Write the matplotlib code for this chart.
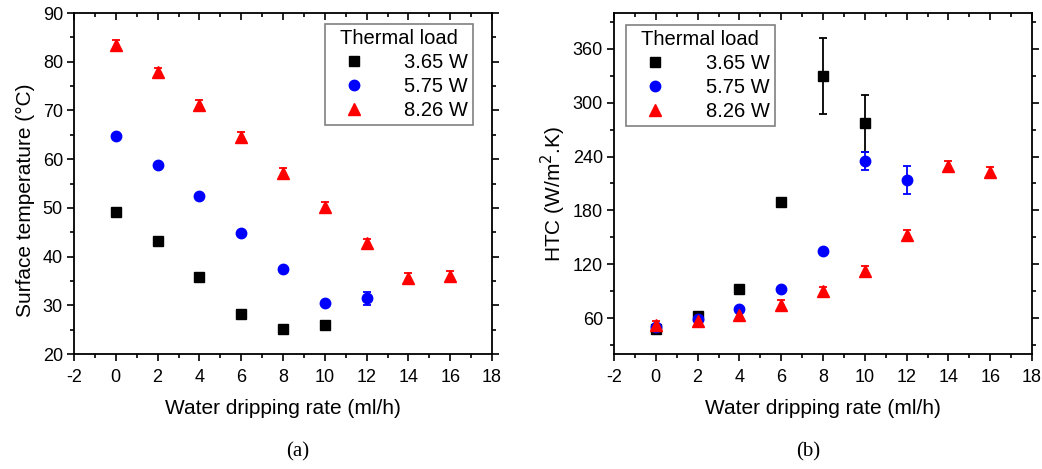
"""
Surface temperature and heat transfer coefficient versus water dripping rate.
"""
import matplotlib
matplotlib.use('Agg')
import matplotlib.pyplot as plt
from matplotlib.ticker import MultipleLocator

plt.rcParams['font.family'] = ['Liberation Sans', 'DejaVu Sans']
plt.rcParams['axes.unicode_minus'] = False

loads = ['3.65 W', '5.75 W', '8.26 W']
colors = ['black', 'blue', 'red']
markers = ['s', 'o', '^']
sizes = [7, 7.5, 8.5]

# dripping rate (ml/h) for each load
rate_365 = [0, 2, 4, 6, 8, 10]
rate_575 = [0, 2, 4, 6, 8, 10, 12]
rate_826 = [0, 2, 4, 6, 8, 10, 12, 14, 16]

# surface temperature (degC)
temp_365 = [49.1, 43.2, 35.9, 28.3, 25.2, 26.0]
temp_575 = [64.7, 58.8, 52.5, 44.9, 37.4, 30.4, 31.4]
temp_826 = [83.5, 77.8, 71.2, 64.5, 57.1, 50.2, 42.7, 35.6, 36.0]
temp_err_365 = [0.4, 0.4, 0.4, 0.4, 0.4, 0.4]
temp_err_575 = [0.4, 0.4, 0.4, 0.4, 0.4, 0.4, 1.3]
temp_err_826 = [1.0, 1.0, 1.0, 1.0, 1.0, 1.0, 1.0, 1.0, 1.0]

# heat transfer coefficient (W/m2.K)
htc_365 = [48, 62, 92, 189, 330, 277]
htc_575 = [50, 59, 70, 92, 135, 235, 214]
htc_826 = [52.6, 57, 64, 75, 90, 112.6, 153, 230, 223]
htc_err_365 = [2, 2, 2, 3, 42, 32]
htc_err_575 = [2, 2, 2, 2, 2, 10, 16]
htc_err_826 = [4, 5, 5, 5, 5, 5, 5, 5, 5]

rates = [rate_365, rate_575, rate_826]
temps = [temp_365, temp_575, temp_826]
temp_errs = [temp_err_365, temp_err_575, temp_err_826]
htcs = [htc_365, htc_575, htc_826]
htc_errs = [htc_err_365, htc_err_575, htc_err_826]


def style_axes(ax, ymajor, yminor):
    ax.set_xlim(-2, 18)
    ax.xaxis.set_major_locator(MultipleLocator(2))
    ax.xaxis.set_minor_locator(MultipleLocator(1))
    ax.yaxis.set_major_locator(MultipleLocator(ymajor))
    ax.yaxis.set_minor_locator(MultipleLocator(yminor))
    ax.tick_params(which='both', direction='out', top=True, right=True,
                   labelsize=13, width=1.2)
    ax.tick_params(axis='x', pad=6)
    ax.tick_params(axis='y', pad=3)
    ax.tick_params(which='major', length=5)
    ax.tick_params(which='minor', length=3)
    for sp in ax.spines.values():
        sp.set_linewidth(1.3)
    ax.set_xlabel('Water dripping rate (ml/h)', fontsize=15, labelpad=9)


def in_ticks(ax):
    # top and right ticks point inward
    for tick in ax.xaxis.get_major_ticks() + ax.xaxis.get_minor_ticks():
        tick.tick2line.set_marker(3)
    for tick in ax.yaxis.get_major_ticks() + ax.yaxis.get_minor_ticks():
        tick.tick2line.set_marker(1)


def draw(ax, xs, ys, errs):
    for x, y, e, c, m, s, lab in zip(xs, ys, errs, colors, markers, sizes, loads):
        ax.errorbar(x, y, yerr=e, fmt=m, color=c, ms=s, ecolor=c,
                    elinewidth=1.3, capsize=3, capthick=1.3, label=lab)


fig = plt.figure(figsize=(10.42, 4.69), dpi=100)
ax1 = fig.add_axes([74 / 1042, 115 / 469, 418 / 1042, 341 / 469])
ax2 = fig.add_axes([614 / 1042, 115 / 469, 418 / 1042, 341 / 469])

draw(ax1, rates, temps, temp_errs)
style_axes(ax1, 10, 5)
ax1.set_ylim(20, 90)
ax1.set_ylabel('Surface temperature (\u00b0C)', fontsize=15)
ax1.yaxis.set_label_coords(-0.094, 0.45)

draw(ax2, rates, htcs, htc_errs)
style_axes(ax2, 60, 30)
ax2.set_ylim(20, 400)
ax2.set_ylabel('HTC (W/m$^2$.K)', fontsize=15)
ax2.yaxis.set_label_coords(-0.11, 0.47)

for ax, loc, anchor in [(ax1, 'upper right', (0.955, 0.968)),
                        (ax2, 'upper left', (0.029, 0.965))]:
    handles, labels = ax.get_legend_handles_labels()
    handles = [h[0] for h in handles]
    leg = ax.legend(handles, labels, loc=loc, bbox_to_anchor=anchor,
                    borderaxespad=0, title='Thermal load',
                    fontsize=14.5, title_fontsize=14.5, fancybox=False,
                    edgecolor='gray', framealpha=1, borderpad=0.25,
                    handletextpad=1.3, labelspacing=0.25, handlelength=2.4)
    leg.get_frame().set_linewidth(1.2)
    fig.canvas.draw()
    in_ticks(ax)

fig.text(298 / 1042, 1 - 452 / 469, '(a)', family='Liberation Serif',
         fontsize=15, ha='center', va='center')
fig.text(808 / 1042, 1 - 452 / 469, '(b)', family='Liberation Serif',
         fontsize=15, ha='center', va='center')

fig.savefig('out.png', dpi=100)
